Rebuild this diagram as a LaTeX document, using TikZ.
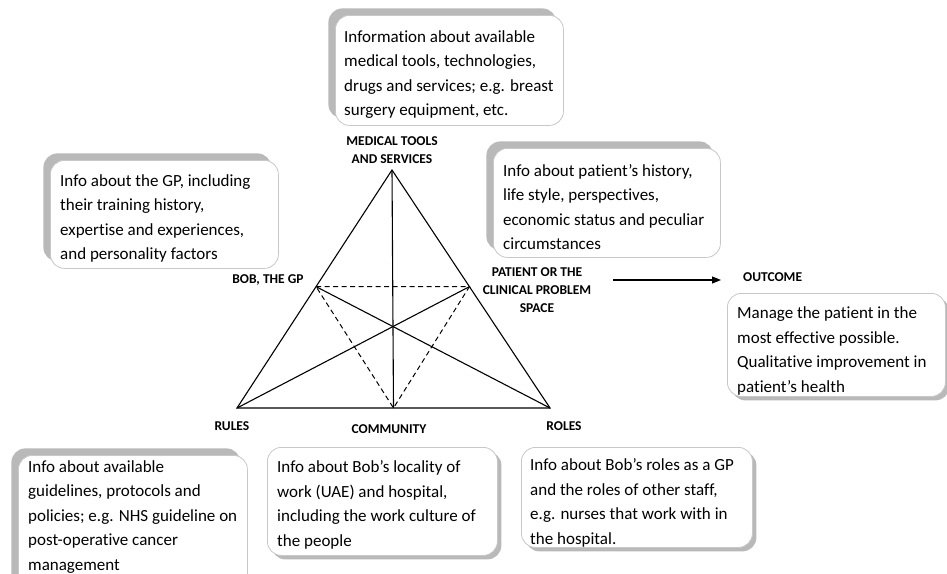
\documentclass[tikz,border=0pt]{standalone}
\usepackage{fontspec}
\setmainfont{Carlito}[Ligatures={NoCommon}]
\usetikzlibrary{arrows.meta,shadows,calc}

\definecolor{boxline}{HTML}{C8C8C8}
\definecolor{shadowgray}{HTML}{B9B9B9}

\tikzset{
  infobox/.style={draw=boxline, line width=0.8pt, fill=white, rounded corners=14pt,
                  anchor=north west, inner sep=0pt},
  shadowul/.style={drop shadow={shadow xshift=-7pt, shadow yshift=7pt,
                   fill=shadowgray, opacity=1}},
  shadowdr/.style={drop shadow={shadow xshift=4pt, shadow yshift=-4pt,
                   fill=shadowgray, opacity=1}},
  % the base anchor of a multi-line node sits on its last baseline
  boxtext/.style={anchor=base west, align=left, inner sep=0pt,
                  font=\fontsize{17}{24.5}\selectfont},
  cornerlabel/.style={align=center, inner sep=0pt,
                      font=\fontsize{13.5}{18}\selectfont\bfseries},
  side/.style={line width=1.1pt},
  medial/.style={line width=1pt, dash pattern=on 5pt off 3.5pt},
  flow/.style={line width=1.1pt, -{Triangle[length=9pt,width=7pt]}}
}

\begin{document}
\begin{tikzpicture}[x=1pt, y=-1pt]
\useasboundingbox (0,0) rectangle (947,573);

% ---- information boxes ----
\node[infobox, shadowul, minimum width=228pt, minimum height=110pt] (toolsbox) at (335,15) {};
\node[infobox, shadowul, minimum width=228pt, minimum height=108pt] (gpbox) at (50,160) {};
\node[infobox, shadowul, minimum width=227pt, minimum height=109pt] (patientbox) at (493,148) {};
\node[infobox, shadowul, minimum width=229pt, minimum height=140pt] (rulesbox) at (18,455) {};
\node[infobox, shadowdr, minimum width=218pt, minimum height=103pt] (outcomebox) at (727,293) {};
\node[infobox, shadowdr, minimum width=230pt, minimum height=108pt] (communitybox) at (267,447) {};
\node[infobox, shadowdr, minimum width=231pt, minimum height=100pt] (rolesbox) at (521,447) {};

% ---- box texts (positioned by their last baseline) ----
\node[boxtext] (toolstext) at (344,115.5) {Information about available\\medical tools, technologies,\\drugs and services; e.g. breast\\surgery equipment, etc.};
\node[boxtext] (gptext) at (60,259.5) {Info about the GP, including\\their training history,\\expertise and experiences,\\and personality factors};
\node[boxtext] (patienttext) at (503,249.5) {Info about patient’s history,\\life style, perspectives,\\economic status and peculiar\\circumstances};
\node[boxtext] (outcometext) at (737,392) {Manage the patient in the\\most effective possible.\\Qualitative improvement in\\patient’s health};
\node[boxtext] (rulestext) at (28,570) {Info about available\\guidelines, protocols and\\policies; e.g. NHS guideline on\\post-operative cancer\\management};
\node[boxtext] (communitytext) at (277,546) {Info about Bob’s locality of\\work (UAE) and hospital,\\including the work culture of\\the people};
\node[boxtext] (rolestext) at (530,544) {Info about Bob’s roles as a GP\\and the roles of other staff,\\e.g. nurses that work with in\\the hospital.};

% ---- triangle corners ----
\coordinate (apex) at (392,170);
\coordinate (rulespt) at (237,408);
\coordinate (rolespt) at (550,408);
\coordinate (gppt) at ($(apex)!0.49!(rulespt)$);
\coordinate (patientpt) at ($(apex)!0.49!(rolespt)$);
\coordinate (communitypt) at ($(rulespt)!0.5!(rolespt)$);

% ---- corner labels ----
\node[cornerlabel] (toolslabel) at (392,150) {MEDICAL TOOLS\\AND SERVICES};
\node[cornerlabel] (gplabel) at (268,280) {BOB, THE GP};
\node[cornerlabel] (patientlabel) at (537,290) {PATIENT OR THE\\CLINICAL PROBLEM\\SPACE};
\node[cornerlabel] (ruleslabel) at (232,426) {RULES};
\node[cornerlabel] (communitylabel) at (389,429) {COMMUNITY};
\node[cornerlabel] (roleslabel) at (564,426) {ROLES};
\node[cornerlabel, anchor=west] (outcomelabel) at (743,277) {OUTCOME};

% ---- triangle ----
\draw[side] (apex) -- (rulespt) -- (rolespt) -- cycle;
\draw[side] (apex) -- (communitypt);
\draw[side] (rulespt) -- (patientpt);
\draw[side] (rolespt) -- (gppt);
\draw[medial] (gppt) -- (patientpt) -- (communitypt) -- cycle;

% ---- outcome arrow ----
\coordinate (arrowstart) at (613,280);
\coordinate (arrowend) at (721,280);
\draw[flow] (arrowstart) -- (arrowend);
\end{tikzpicture}
\end{document}
